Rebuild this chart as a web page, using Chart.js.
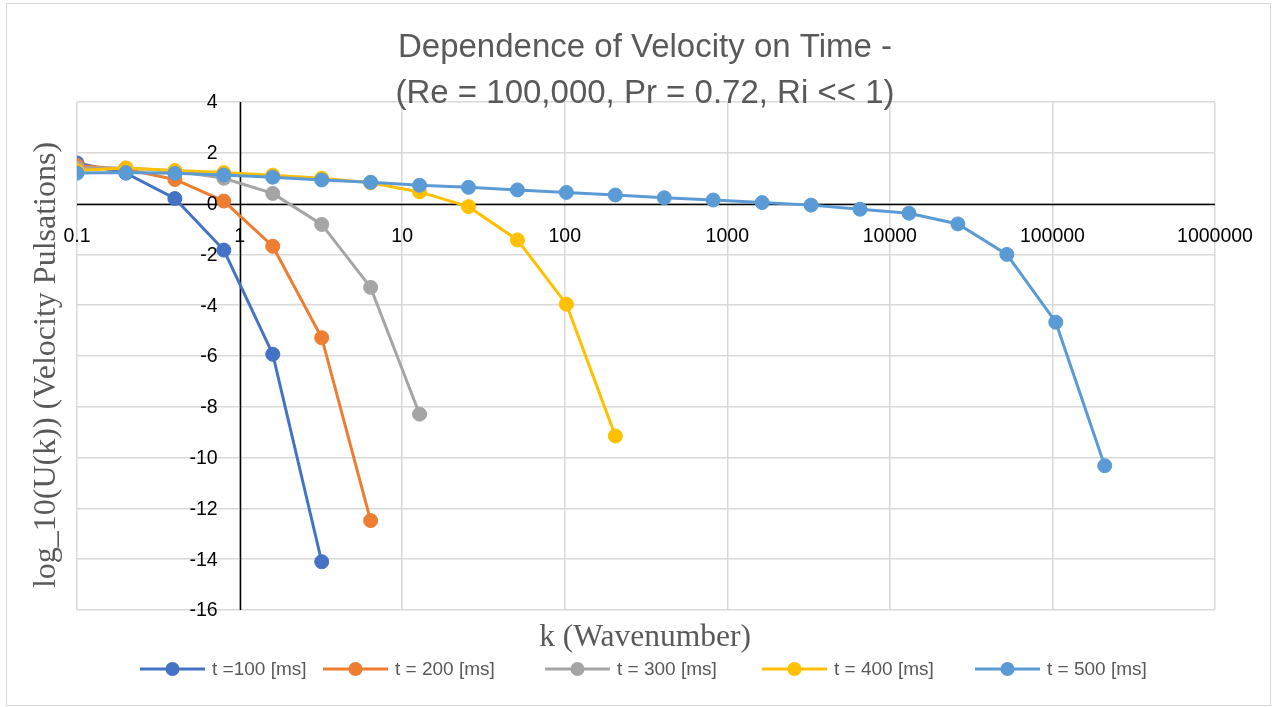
<!DOCTYPE html>
<html>
<head>
<meta charset="utf-8">
<script src="https://cdn.jsdelivr.net/npm/chart.js@4.4.1/dist/chart.umd.min.js"></script>
<style>
  html, body { margin: 0; padding: 0; background: #fff; }
  #wrap { width: 1273px; height: 707px; position: relative; }
</style>
</head>
<body>
<div id="wrap"><canvas id="chart"></canvas></div>
<script>
// wavenumbers (k doubles each step)
const kValues = [0.1, 0.2, 0.4, 0.8, 1.6, 3.2, 6.4, 12.8, 25.6, 51.2, 102.4, 204.8,
  409.6, 819.2, 1638.4, 3276.8, 6553.6, 13107.2, 26214.4, 52428.8, 104857.6, 209715.2];

// log10(U(k)) for each time
const u100 = [1.6, 1.2, 0.2, -1.83, -5.93, -14.1];
const u200 = [1.5, 1.35, 0.95, 0.1, -1.68, -5.28, -12.48];
const u300 = [1.4, 1.4, 1.28, 1.0, 0.4, -0.82, -3.3, -8.29];
const u400 = [1.3, 1.4, 1.3, 1.22, 1.12, 1.0, 0.82, 0.46, -0.12, -1.43, -3.96, -9.15];
const u500 = [1.2, 1.22, 1.19, 1.13, 1.04, 0.93, 0.84, 0.72, 0.64, 0.54, 0.44, 0.34,
  0.23, 0.14, 0.04, -0.06, -0.22, -0.38, -0.8, -2.0, -4.67, -10.32];

const seriesLabels = ["t =100 [ms]", "t = 200 [ms]", "t = 300 [ms]", "t = 400 [ms]", "t = 500 [ms]"];
const seriesColors = ["#4472C4", "#ED7D31", "#A5A5A5", "#FFC000", "#5B9BD5"];
const allSeries = [u100, u200, u300, u400, u500];

const xTicks = [0.1, 1, 10, 100, 1000, 10000, 100000, 1000000];
const xTickLabels = ["0.1", "1", "10", "100", "1000", "10000", "100000", "1000000"];
const yTicks = [4, 2, 0, -2, -4, -6, -8, -10, -12, -14, -16];

const titleLines = ["Dependence of Velocity on Time -", "(Re = 100,000, Pr = 0.72, Ri << 1)"];
const xTitle = "k (Wavenumber)";
const yTitle = "log_10(U(k)) (Velocity Pulsations)";

const sansFont = '"Liberation Sans", Arial, sans-serif';
const serifFont = '"Liberation Serif", "Times New Roman", serif';

// build the datasets from the arrays
let datasets = allSeries.map((vals, i) => ({
  label: seriesLabels[i],
  data: vals.map((v, j) => ({ x: kValues[j], y: v })),
  borderColor: seriesColors[i],
  backgroundColor: seriesColors[i],
  pointBackgroundColor: seriesColors[i],
  pointBorderColor: seriesColors[i],
  borderWidth: 3,
  pointRadius: 7,
  pointBorderWidth: 1,
  showLine: true,
  order: allSeries.length - i   // later series on top, like excel
}));

// 🖌 title, tick labels, axis titles, legend, border
const decorPlugin = {
  id: "decor",
  beforeDraw(chart) {
    const ctx = chart.ctx;
    ctx.save();
    ctx.fillStyle = "#fff";
    ctx.fillRect(0, 0, chart.width, chart.height);
    ctx.restore();
  },
  afterDraw(chart) {
    const ctx = chart.ctx;
    const xs = chart.scales.x;
    const ys = chart.scales.y;

    ctx.save();

    // outer border
    ctx.strokeStyle = "#d9d9d9";
    ctx.lineWidth = 1;
    ctx.strokeRect(6.5, 3.5, 1264, 702);

    // title
    ctx.fillStyle = "#595959";
    ctx.font = "33px " + sansFont;
    ctx.textAlign = "center";
    ctx.textBaseline = "middle";
    ctx.fillText(titleLines[0], 645, 48);
    ctx.fillText(titleLines[1], 645, 94);

    // x tick labels under the y=0 line
    const y0 = ys.getPixelForValue(0);
    ctx.fillStyle = "#000";
    ctx.font = "19.5px " + sansFont;
    ctx.textBaseline = "middle";
    ctx.textAlign = "center";
    xTicks.forEach((v, i) => {
      ctx.fillText(xTickLabels[i], xs.getPixelForValue(v), y0 + 33);
    });

    // y tick labels left of the x=1 line
    const x1 = xs.getPixelForValue(1);
    ctx.textAlign = "right";
    yTicks.forEach((v) => {
      ctx.fillText(String(v), x1 - 22, ys.getPixelForValue(v) + 1);
    });

    // axis titles
    ctx.fillStyle = "#595959";
    ctx.font = "31.5px " + serifFont;
    ctx.textAlign = "center";
    ctx.fillText(xTitle, 645, 638);
    ctx.font = "32px " + serifFont;
    ctx.save();
    ctx.translate(47, 365);
    ctx.rotate(-Math.PI / 2);
    ctx.fillText(yTitle, 0, 0);
    ctx.restore();

    // legend
    const legendX = [140, 323, 545, 762, 975];
    const legendY = 669;
    ctx.font = "19px " + sansFont;
    ctx.textAlign = "left";
    seriesLabels.forEach((lab, i) => {
      const lx = legendX[i];
      ctx.strokeStyle = seriesColors[i];
      ctx.lineWidth = 3;
      ctx.beginPath();
      ctx.moveTo(lx, legendY);
      ctx.lineTo(lx + 65, legendY);
      ctx.stroke();
      ctx.fillStyle = seriesColors[i];
      ctx.beginPath();
      ctx.arc(lx + 32.5, legendY, 7, 0, Math.PI * 2);
      ctx.fill();
      ctx.fillStyle = "#595959";
      ctx.fillText(lab, lx + 72, legendY + 1);
    });

    ctx.restore();
  }
};

// axis lines drawn before the datasets so markers cover them
const axisLinePlugin = {
  id: "axisLines",
  beforeDatasetsDraw(chart) {
    const ctx = chart.ctx;
    const xs = chart.scales.x;
    const ys = chart.scales.y;
    const area = chart.chartArea;
    const y0 = Math.round(ys.getPixelForValue(0)) + 0.5;
    const x1 = Math.round(xs.getPixelForValue(1)) + 0.5;
    ctx.save();
    ctx.strokeStyle = "#000";
    ctx.lineWidth = 1.5;
    ctx.beginPath();
    ctx.moveTo(area.left, y0);
    ctx.lineTo(area.right, y0);
    ctx.moveTo(x1, area.top);
    ctx.lineTo(x1, area.bottom);
    ctx.stroke();
    ctx.restore();
  }
};

const chart = new Chart(document.getElementById("chart"), {
  type: "scatter",
  data: { datasets: datasets },
  options: {
    responsive: true,
    maintainAspectRatio: false,
    animation: false,
    layout: { padding: { left: 77, top: 102, right: 58, bottom: 97 } },
    plugins: {
      legend: { display: false },
      title: { display: false },
      tooltip: { enabled: false }
    },
    scales: {
      x: {
        type: "logarithmic",
        min: 0.1,
        max: 1000000,
        afterBuildTicks: (scale) => {
          scale.ticks = xTicks.map(v => ({ value: v, major: true }));
        },
        ticks: { display: false },
        grid: { color: "#d9d9d9", lineWidth: 1.5, drawTicks: false },
        border: { display: false }
      },
      y: {
        min: -16,
        max: 4,
        afterBuildTicks: (scale) => {
          scale.ticks = yTicks.map(v => ({ value: v }));
        },
        ticks: { display: false },
        grid: { color: "#d9d9d9", lineWidth: 1.5, drawTicks: false },
        border: { display: false }
      }
    }
  },
  plugins: [decorPlugin, axisLinePlugin]
});
</script>
</body>
</html>
